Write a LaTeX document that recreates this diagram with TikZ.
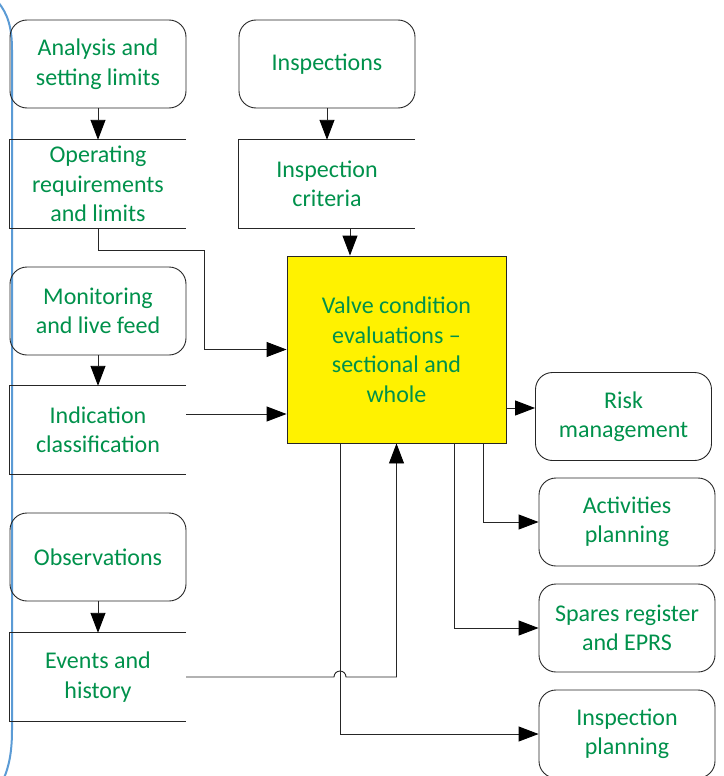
\documentclass[tikz,border=0pt]{standalone}
\usepackage{fontspec}
\setmainfont{Carlito}
\usepackage{tikz}
\usetikzlibrary{arrows.meta,shapes}
\usetikzlibrary{positioning}
\definecolor{txtgreen}{RGB}{0,145,75}
\definecolor{laneblue}{RGB}{91,155,213}
\tikzset{
	boxtext/.style={text=txtgreen, align=center, font=\fontsize{24}{29.5}\selectfont},
	process/.style={boxtext, draw=black!85, line width=0.9pt, rounded corners=17pt,
		minimum width=176pt, minimum height=88pt},
	store/.style={boxtext, minimum width=176pt, minimum height=88pt},
	evalbox/.style={boxtext, draw=black!85, line width=0.9pt, fill=yellow,
		minimum width=219pt, minimum height=187pt},
	wire/.style={draw=black!85, line width=0.9pt},
	flow/.style={wire, -{Triangle[length=20pt,width=15pt,color=black]}},
}

\begin{document}
\begin{tikzpicture}[x=1pt,y=-1pt]
			\useasboundingbox (0,0) rectangle (723,776);
			% Lane border
			\draw [laneblue, line width=2pt] (-2,2) .. controls (8,14) and (12,28) .. (12,50) -- (12,730) .. controls (12,752) and (9,766) .. (4,778);
			% Sources
			\node [process] (anl) at (98,64) {Analysis and\\setting limits};
			\node [store] (opreq) at (98,184) {Operating\\requirements\\and limits};
			\node [process] (insp) at (327,64) {Inspections};
			\node [store] (icrit) at (327,184) {Inspection\\criteria};
			\node [process] (mon) at (98,311) {Monitoring\\and live feed};
			\node [store] (indc) at (98,430) {Indication\\classification};
			\node [process] (obs) at (98,557) {Observations};
			\node [store] (evh) at (98,677) {Events and\\history};
			\foreach \s in {opreq,icrit,indc,evh}
				\draw [wire] (\s.north east) -- (\s.north west) -- (\s.south west) -- (\s.south east);
			% Evaluation
			\node [evalbox] (vce) at (396.5,349.5) {Valve condition\\evaluations –\\sectional and\\whole};
			% Outputs
			\node [process] (risk) at (623.5,416.5) {Risk\\management};
			\node [process] (act) at (627,522) {Activities\\planning};
			\node [process] (spr) at (627,628) {Spares register\\and EPRS};
			\node [process] (iplan) at (627,734) {Inspection\\planning};
			% Arrows in
			\draw [flow] (anl) -- (opreq);
			\draw [flow] (insp) -- (icrit);
			\draw [flow] (mon) -- (indc);
			\draw [flow] (obs) -- (evh);
			\draw [flow] (opreq.south) |- (204,250) |- (vce.west);
			\draw [flow] (icrit.south -| 350,0) -- (vce.north -| 350,0);
			\draw [flow] (indc.east |- 0,414) -- (vce.west |- 0,414);
			\draw [flow] (evh.east) -- (334,677) arc [start angle=180, end angle=0, radius=6pt] -| (vce.south);
			% Arrows out
			\draw [flow] (vce.east |- 0,408) -- (risk.west |- 0,408);
			\draw [flow] (vce.south -| 483,0) |- (act.west);
			\draw [flow] (vce.south -| 454,0) |- (spr.west);
			\draw [flow] (vce.south -| 340,0) |- (iplan.west);
		\end{tikzpicture}
\end{document}
